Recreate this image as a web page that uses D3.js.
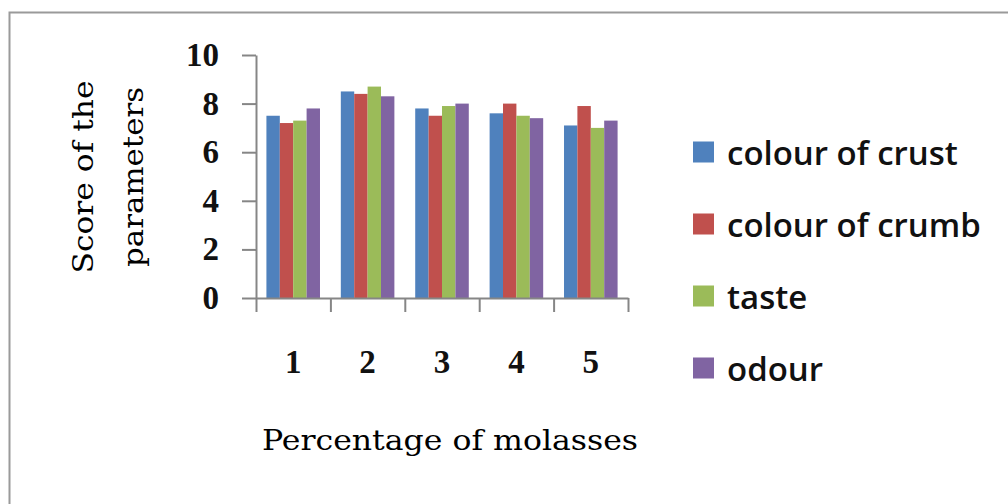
<!DOCTYPE html>
<html><head><meta charset="utf-8">
<script src="https://cdn.jsdelivr.net/npm/d3@7"></script>
<style>body{margin:0;background:#fff}svg{display:block}</style>
</head><body><svg id="c" width="1008" height="504"></svg>
<script>
const categories = ["1","2","3","4","5"];
const seriesNames = ["colour of crust","colour of crumb","taste","odour"];
const colourOfCrust = [7.5, 8.5, 7.8, 7.6, 7.1];
const colourOfCrumb = [7.2, 8.4, 7.5, 8.0, 7.9];
const taste = [7.3, 8.7, 7.9, 7.5, 7.0];
const odour = [7.8, 8.3, 8.0, 7.4, 7.3];
const yTicks = [0, 2, 4, 6, 8, 10];
const colors = ["#4F81BD", "#C0504D", "#9BBB59", "#8064A2"];
const seriesValues = [colourOfCrust, colourOfCrumb, taste, odour];

const svg = d3.select("#c");
// outer chart border
svg.append("rect").attr("x", 9.5).attr("y", 12.5).attr("width", 1100).attr("height", 600)
  .attr("fill", "none").attr("stroke", "#9a9a9a").attr("stroke-width", 2);

const L = 256, R = 628, T = 55, B = 298;
const x0 = d3.scaleBand().domain(categories).range([L, R]).paddingInner(0).paddingOuter(0);
const bw = x0.bandwidth();
const x1 = d3.scaleBand().domain(seriesNames).range([bw * 0.14, bw * 0.86]);
const y = d3.scaleLinear().domain([0, 10]).range([B, T]);

// bars
seriesNames.forEach((s, si) => {
  svg.append("g").selectAll("rect").data(categories).join("rect")
    .attr("x", c => x0(c) + x1(s))
    .attr("y", (c, i) => y(seriesValues[si][i]))
    .attr("width", x1.bandwidth())
    .attr("height", (c, i) => y(0) - y(seriesValues[si][i]))
    .attr("fill", colors[si]);
});

// y axis
const yAxis = svg.append("g").attr("transform", `translate(${L},0)`)
  .call(d3.axisLeft(y).tickValues(yTicks).tickSize(14).tickPadding(23).tickSizeOuter(0));
yAxis.select(".domain").attr("stroke", "#868686").attr("stroke-width", 2);
yAxis.selectAll(".tick line").attr("stroke", "#868686").attr("stroke-width", 2);
yAxis.selectAll(".tick text").attr("font-family", "Liberation Serif").attr("font-weight", "bold")
  .attr("font-size", 33).attr("fill", "#111");

// x axis boundary ticks
const xb = d3.scaleLinear().domain([0, categories.length]).range([L, R]);
const xAxis = svg.append("g").attr("transform", `translate(0,${B})`)
  .call(d3.axisBottom(xb).ticks(categories.length).tickSize(14).tickFormat("").tickSizeOuter(0));
xAxis.select(".domain").attr("stroke", "#868686").attr("stroke-width", 2);
xAxis.selectAll(".tick line").attr("stroke", "#868686").attr("stroke-width", 2);

// x category labels
svg.append("g").selectAll("text").data(categories).join("text")
  .attr("x", c => x0(c) + bw / 2).attr("y", 362)
  .attr("text-anchor", "middle").attr("dominant-baseline", "central")
  .attr("font-family", "Liberation Serif").attr("font-weight", "bold").attr("font-size", 33)
  .attr("fill", "#111")
  .text(c => c);

// axis titles
svg.append("text").attr("x", 450).attr("y", 440).attr("text-anchor", "middle")
  .attr("dominant-baseline", "central").attr("font-family", "DejaVu Serif").attr("font-size", 28)
  .attr("textLength", 376).attr("lengthAdjust", "spacingAndGlyphs")
  .text("Percentage of molasses");
const yt = svg.append("g").attr("transform", "translate(0,177) rotate(-90)");
yt.append("text").attr("x", 0).attr("y", 83).attr("text-anchor", "middle").attr("dominant-baseline", "central")
  .attr("font-family", "DejaVu Serif").attr("font-size", 28)
  .attr("textLength", 193).attr("lengthAdjust", "spacingAndGlyphs").text("Score of the");
yt.append("text").attr("x", 0).attr("y", 133).attr("text-anchor", "middle").attr("dominant-baseline", "central")
  .attr("font-family", "DejaVu Serif").attr("font-size", 28)
  .attr("textLength", 180).attr("lengthAdjust", "spacingAndGlyphs").text("parameters");

// legend
const lg = svg.append("g").selectAll("g").data(seriesNames).join("g")
  .attr("transform", (d, i) => `translate(693,${152 + i * 72})`);
lg.append("rect").attr("x", 0).attr("y", -10.5).attr("width", 21).attr("height", 21)
  .attr("fill", (d, i) => colors[i]);
const lt = lg.append("text").attr("x", 34).attr("y", 0).attr("dominant-baseline", "central")
  .attr("font-family", "Open Sans").attr("font-weight", 600).attr("font-size", 30).attr("fill", "#111")
  .text(d => d);
// fit legend font so that the first entry matches the reference width
const w0 = lt.node().getComputedTextLength();
lt.attr("font-size", 30 * 231 / w0);
</script></body></html>
